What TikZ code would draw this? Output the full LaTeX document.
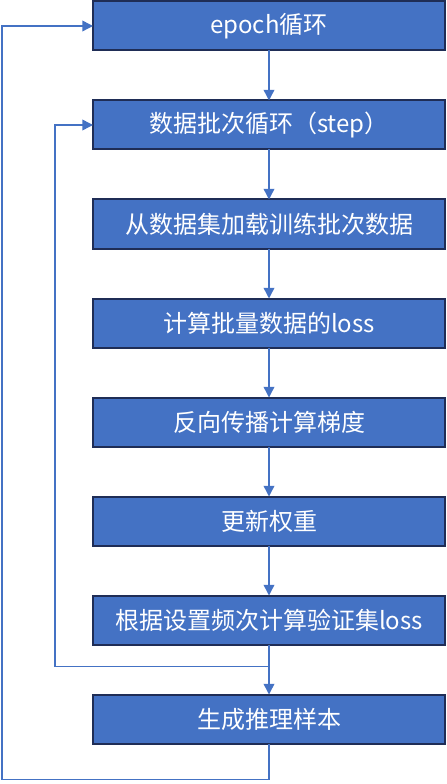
\documentclass[tikz,border=0pt]{standalone}
\usepackage{fontspec}
\setmainfont{Noto Sans CJK SC}
\usetikzlibrary{positioning,arrows.meta}
\definecolor{boxblue}{HTML}{4472C4}
\definecolor{boxline}{HTML}{1F2D56}
\definecolor{flowblue}{HTML}{4472C4}

\begin{document}
\begin{tikzpicture}[x=0.75pt, y=-0.75pt, node distance=37.5pt, >={Triangle[length=8pt,width=8pt]},
    box/.style={draw=boxline, line width=1.5pt, fill=boxblue, rectangle, text=white, font=\fontsize{18}{21}\selectfont, minimum width=264pt, minimum height=36.75pt, inner sep=0pt, outer sep=0pt},
    flow/.style={draw=flowblue, line width=1.1pt, ->}]

  \useasboundingbox (0,0) rectangle (446,784);

  \node[box] (epoch) at (269,26) {epoch循环};
  \node[box, below=of epoch] (step) {数据批次循环（step）};
  \node[box, below=of step] (load) {从数据集加载训练批次数据};
  \node[box, below=of load] (loss) {计算批量数据的loss};
  \node[box, below=of loss] (back) {反向传播计算梯度};
  \node[box, below=of back] (update) {更新权重};
  \node[box, below=of update] (val) {根据设置频次计算验证集loss};
  \node[box, below=of val] (sample) {生成推理样本};

  \draw[flow] (epoch) -- (step);
  \draw[flow] (step) -- (load);
  \draw[flow] (load) -- (loss);
  \draw[flow] (loss) -- (back);
  \draw[flow] (back) -- (update);
  \draw[flow] (update) -- (val);
  \draw[flow] (val) -- (sample);
  % step loop back
  \draw[flow] (val.south) -- ++(0,22) -| ([xshift=-28.5pt]step.west) -- (step.west);
  % epoch loop back
  \draw[flow] (sample.south) -- ++(0,36) -| ([xshift=-68.25pt]epoch.west) -- (epoch.west);
\end{tikzpicture}
\end{document}
